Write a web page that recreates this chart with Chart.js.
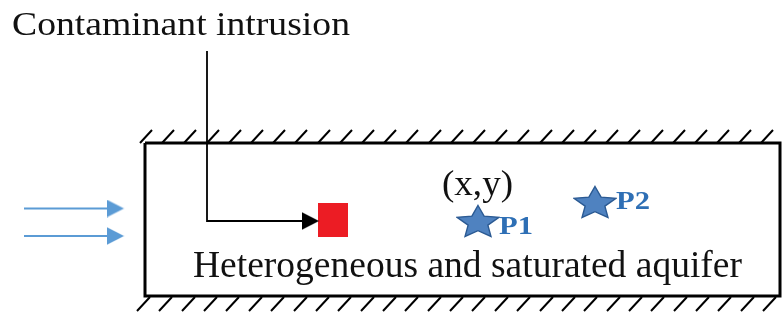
<!DOCTYPE html>
<html>
<head>
<meta charset="utf-8">
<script src="https://cdn.jsdelivr.net/npm/chart.js@4.4.1/dist/chart.umd.min.js"></script>
<style>
  html, body { margin: 0; padding: 0; background: #fff; }
  #esquema { display: block; }
</style>
</head>
<body>
<canvas id="esquema" width="782" height="316"></canvas>
<script>
// Datos del esquema (unidades del dominio: x a la derecha, y hacia abajo)
const acuiferoX = [145, 780, 780, 145, 145];
const acuiferoY = [143, 143, 296, 296, 143];
// rayas del borde impermeable (extremo superior de las de arriba, extremo inferior de las de abajo)
const rayasSupX = [152, 174, 196, 219, 241, 263, 285, 307, 330, 352, 374, 396, 418, 441, 463,
  485, 507, 529, 552, 574, 596, 618, 640, 663, 685, 707, 729, 751, 773];
const rayasInfX = [137, 159, 182, 204, 226, 249, 271, 294, 316, 338, 361, 383, 405, 428, 450,
  472, 495, 517, 540, 562, 584, 607, 629, 651, 674, 696, 718, 741, 763];
const bordeSupY = [143, 130];
const bordeInfY = [311, 297];
// flujo de entrada
const flujoX = [24, 108];
const flujoY = [208.5, 236];
const puntaFlujoX = 115.5;
// linea de intrusion
const intrusionX = [207, 207, 302];
const intrusionY = [51, 221, 221];
const puntaIntrusionX = [310.5];
const puntaIntrusionY = [221];
// fuente contaminante
const fuenteX = [333];
const fuenteY = [220];
// pozos de observacion
const pozos = ["P1", "P2"];
const pozosX = [478, 595];
const pozosY = [221, 202];
const etiquetaX = [499, 616];
const etiquetaY = [234, 209];
// textos
const textos = ["Contaminant intrusion", "Heterogeneous and saturated aquifer", "(x,y)"];
const textosX = [12, 193, 442];
const textosY = [35, 277, 195];

// Funcion para crear imagenes de marcadores
function hacerImagen(w, h, dibujar) {
  const c = document.createElement("canvas");
  c.width = w;
  c.height = h;
  dibujar(c.getContext("2d"), w, h);
  return c;
}

function flecha(color) {
  return hacerImagen(18, 18, function (g) {
    g.fillStyle = color;
    g.beginPath();
    g.moveTo(0, 0);
    g.lineTo(17.5, 9);
    g.lineTo(0, 18);
    g.closePath();
    g.fill();
  });
}

const imgEstrella = hacerImagen(44, 34, function (g) {
  const rx = 21 / Math.sin(72 * Math.PI / 180);
  const ry = 31 / (1 + Math.cos(36 * Math.PI / 180));
  const cx = 22, cy = 1.5 + ry;
  g.beginPath();
  for (let i = 0; i < 10; i++) {
    const ang = (-90 + i * 36) * Math.PI / 180;
    const k = i % 2 === 0 ? 1 : 0.47;
    const px = cx + Math.cos(ang) * rx * k;
    const py = cy + Math.sin(ang) * ry * k;
    if (i === 0) g.moveTo(px, py); else g.lineTo(px, py);
  }
  g.closePath();
  g.fillStyle = "#4f82c0";
  g.fill();
  g.strokeStyle = "#2b5a93";
  g.lineWidth = 1.4;
  g.stroke();
});

const imgFuente = hacerImagen(30, 34, function (g) {
  g.fillStyle = "#ec1c24";
  g.fillRect(0, 0, 30, 34);
});

function puntos(xs, ys) {
  return xs.map(function (x, i) { return { x: x, y: ys[i] }; });
}

// segmentos separados por huecos
const rayas = [];
rayasSupX.forEach(function (x) {
  rayas.push({ x: x - 12, y: bordeSupY[0] }, { x: x, y: bordeSupY[1] }, { x: null, y: null });
});
rayasInfX.forEach(function (x) {
  rayas.push({ x: x, y: bordeInfY[0] }, { x: x + 13, y: bordeInfY[1] }, { x: null, y: null });
});

const flujo = [];
flujoY.forEach(function (y) {
  flujo.push({ x: flujoX[0], y: y }, { x: flujoX[1], y: y }, { x: null, y: null });
});

const fuenteTexto = "'Liberation Serif', 'Times New Roman', serif";
const estiloTextos = [
  { size: 34, bold: false, ancho: 338, color: "#111" },
  { size: 37, bold: false, ancho: 549, color: "#111" },
  { size: 36, bold: false, ancho: 71, color: "#111" },
];

const textoPlugin = {
  id: "textos",
  afterDatasetsDraw(chart) {
    const ctx = chart.ctx;
    const sx = chart.scales.x, sy = chart.scales.y;
    function escribir(t, x, y, est) {
      ctx.save();
      ctx.font = (est.bold ? "bold " : "") + est.size + "px " + fuenteTexto;
      ctx.fillStyle = est.color;
      ctx.textBaseline = "alphabetic";
      const w = ctx.measureText(t).width;
      ctx.translate(sx.getPixelForValue(x), sy.getPixelForValue(y));
      ctx.scale(est.ancho / w, 1);
      ctx.fillText(t, 0, 0);
      ctx.restore();
    }
    textos.forEach(function (t, i) {
      escribir(t, textosX[i], textosY[i], estiloTextos[i]);
    });
    pozos.forEach(function (t, i) {
      escribir(t, etiquetaX[i], etiquetaY[i], { size: 26, bold: true, ancho: 34, color: "#2e6fb5" });
    });
  },
};

new Chart(document.getElementById("esquema"), {
  type: "scatter",
  data: {
    datasets: [
      {
        data: puntos(acuiferoX, acuiferoY),
        showLine: true,
        borderColor: "#000",
        borderWidth: 3,
        borderJoinStyle: "miter",
        pointRadius: 0,
      },
      {
        data: rayas,
        showLine: true,
        spanGaps: false,
        borderColor: "#000",
        borderWidth: 2,
        pointRadius: 0,
      },
      {
        data: flujo,
        showLine: true,
        spanGaps: false,
        borderColor: "#5b9bd5",
        borderWidth: 2,
        pointRadius: 0,
      },
      {
        data: flujoY.map(function (y) { return { x: puntaFlujoX, y: y }; }),
        pointStyle: flecha("#5b9bd5"),
        pointRadius: 10,
      },
      {
        data: puntos(intrusionX, intrusionY),
        showLine: true,
        borderColor: "#000",
        borderWidth: 1.8,
        borderJoinStyle: "miter",
        pointRadius: 0,
      },
      {
        data: puntos(puntaIntrusionX, puntaIntrusionY),
        pointStyle: flecha("#000"),
        pointRadius: 10,
      },
      {
        data: puntos(fuenteX, fuenteY),
        pointStyle: imgFuente,
        pointRadius: 10,
      },
      {
        data: puntos(pozosX, pozosY),
        pointStyle: imgEstrella,
        pointRadius: 10,
      },
    ],
  },
  options: {
    responsive: false,
    animation: false,
    events: [],
    layout: { padding: 0, autoPadding: false },
    elements: { line: { tension: 0 } },
    plugins: { legend: { display: false }, tooltip: { enabled: false } },
    scales: {
      x: { type: "linear", min: 0, max: 782, display: false },
      y: { type: "linear", min: 0, max: 316, reverse: true, display: false },
    },
  },
  plugins: [textoPlugin],
});
</script>
</body>
</html>
